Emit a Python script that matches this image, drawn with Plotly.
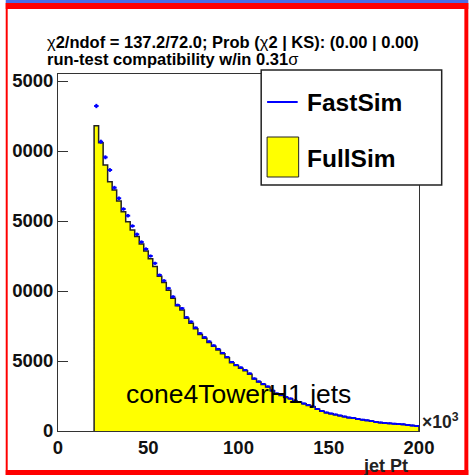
import numpy as np
import plotly.graph_objects as go

# Binning of the jet Pt histograms (units of 10^3)
bin_lo = 20.0
bin_w = 2.5

fastsim = [23214, 20664, 19550, 18643, 17379, 16622, 15857, 15379, 14643, 14050,
           13500, 13000, 12500, 11979, 11143, 10736, 10193, 9593, 9000, 8764,
           8121, 7807, 7379, 6979, 6693, 6393, 6107, 5857, 5571, 5286,
           4929, 4714, 4536, 4357, 4107, 3750, 3536, 3357, 3179, 2893,
           2679, 2571, 2429, 2321, 2179, 2071, 1964, 1857, 1750, 1571,
           1429, 1321, 1250, 1179, 1107, 1036, 964, 929, 857, 807,
           764, 714, 643, 607, 571, 550, 521, 500, 479, 429,
           393, 357]

fullsim = [21807, 20593, 19000, 17807, 17214, 16429, 15664, 14950, 14357, 13900,
           13350, 12850, 12300, 11750, 11050, 10600, 10050, 9480, 8950, 8650,
           8050, 7700, 7300, 6900, 6620, 6330, 6050, 5790, 5510, 5230,
           4880, 4680, 4490, 4310, 4060, 3720, 3500, 3320, 3150, 2870,
           2650, 2540, 2400, 2300, 2150, 2050, 1940, 1830, 1730, 1550,
           1410, 1300, 1230, 1160, 1090, 1020, 950, 915, 845, 795,
           750, 700, 635, 595, 560, 540, 510, 490, 470, 420,
           385, 350]

y_tickvals = [0, 5000, 10000, 15000, 20000, 25000]
y_ticktext = ["0", "5000", "0000", "5000", "0000", "5000"]
x_tickvals = [0, 50, 100, 150, 200]
x_ticktext = ["0", "50", "100", "150", "200"]

edges = bin_lo + bin_w * np.arange(len(fullsim) + 1)
centers = edges[:-1] + bin_w / 2

W, H = 469, 475
L, R, T, B = 53, 50, 74, 44
PW, PH = W - L - R, H - T - B


def px(x):
    return (x - L) / PW


def py(y):
    return (H - B - y) / PH


FONT = "Liberation Sans, Arial, Helvetica, sans-serif"

fig = go.Figure()

# FullSim: filled step histogram with dark outline
fig.add_trace(go.Scatter(
    x=[edges[0]] + list(edges[:-1]) + [edges[-1], edges[-1]],
    y=[0] + list(fullsim) + [fullsim[-1], 0],
    mode="lines", line=dict(shape="hv", color="#222222", width=1.5),
    fill="tozeroy", fillcolor="#ffff00", name="FullSim", showlegend=False,
    hoverinfo="skip",
))

# FastSim: points with bin-width horizontal bars and statistical errors
fig.add_trace(go.Scatter(
    x=centers, y=fastsim, mode="markers",
    marker=dict(size=2, color="#0000ff"),
    error_x=dict(type="constant", value=bin_w / 2, width=0, thickness=2, color="#0000ff"),
    error_y=dict(type="data", array=np.sqrt(fastsim), width=0, thickness=2, color="#0000ff"),
    name="FastSim", showlegend=False,
))

shapes = [
    # legend box
    dict(type="rect", xref="paper", yref="paper", x0=px(259), x1=px(442), y0=py(185), y1=py(70),
         fillcolor="white", line=dict(color="#222222", width=1.5), layer="above"),
    dict(type="line", xref="paper", yref="paper", x0=px(265), x1=px(296), y0=py(102), y1=py(102),
         line=dict(color="#0000ff", width=2), layer="above"),
    dict(type="rect", xref="paper", yref="paper", x0=px(265), x1=px(297), y0=py(177), y1=py(137),
         fillcolor="#ffff00", line=dict(color="#222222", width=1), layer="above"),
    # canvas border
    dict(type="rect", xref="paper", yref="paper", x0=px(0), x1=px(W), y0=py(0), y1=py(3),
         fillcolor="#4a6ee6", line=dict(width=0), layer="above"),
    dict(type="rect", xref="paper", yref="paper", x0=px(0), x1=px(W), y0=py(3), y1=py(9),
         fillcolor="#ff0000", line=dict(width=0), layer="above"),
    dict(type="rect", xref="paper", yref="paper", x0=px(0), x1=px(2), y0=py(3), y1=py(H),
         fillcolor="#ff0000", line=dict(width=0), layer="above"),
    dict(type="rect", xref="paper", yref="paper", x0=px(465), x1=px(W), y0=py(3), y1=py(H),
         fillcolor="#ff0000", line=dict(width=0), layer="above"),
    dict(type="rect", xref="paper", yref="paper", x0=px(0), x1=px(W), y0=py(470), y1=py(H),
         fillcolor="#ff0000", line=dict(width=0), layer="above"),
]

annotations = [
    dict(text="χ<b>2/ndof = 137.2/72.0; Prob (</b>χ<b>2 | KS): (0.00 | 0.00)</b>",
         x=px(40), y=py(42), xanchor="left", yanchor="middle"),
    dict(text="<b>run-test compatibility w/in 0.31</b>σ",
         x=px(40), y=py(59), xanchor="left", yanchor="middle"),
]
for a in annotations:
    a.update(xref="paper", yref="paper", showarrow=False,
             font=dict(family=FONT, size=16.5, color="black"))

annotations += [
    dict(text="<b>FastSim</b>", x=px(303), y=py(102), xanchor="left", yanchor="middle",
         xref="paper", yref="paper", showarrow=False,
         font=dict(family=FONT, size=24.5, color="black")),
    dict(text="<b>FullSim</b>", x=px(303), y=py(158), xanchor="left", yanchor="middle",
         xref="paper", yref="paper", showarrow=False,
         font=dict(family=FONT, size=24.5, color="black")),
    dict(text="cone4TowerH1 jets", x=px(120), y=py(394), xanchor="left", yanchor="middle",
         xref="paper", yref="paper", showarrow=False,
         font=dict(family=FONT, size=26.5, color="black")),
    dict(text="<b>×10<sup>3</sup></b>", x=px(420), y=py(421), xanchor="left", yanchor="middle",
         xref="paper", yref="paper", showarrow=False,
         font=dict(family=FONT, size=17.5, color="#222222")),
    dict(text="<b>jet Pt</b>", x=px(410), y=py(466), xanchor="right", yanchor="middle",
         xref="paper", yref="paper", showarrow=False,
         font=dict(family=FONT, size=18, color="#222222")),
]

tickfont = dict(family=FONT, size=18.5, color="#111111", weight="bold")

fig.update_layout(
    width=W, height=H,
    margin=dict(l=L, r=R, t=T, b=B, pad=0),
    paper_bgcolor="white", plot_bgcolor="white",
    showlegend=False,
    shapes=shapes, annotations=annotations,
    xaxis=dict(range=[0, 200], tickvals=x_tickvals, ticktext=x_ticktext, ticks="",
               showline=True, mirror=True, linecolor="#333333", linewidth=1,
               showgrid=False, zeroline=False, tickfont=tickfont, fixedrange=True),
    yaxis=dict(range=[0, 25500], tickvals=y_tickvals, ticktext=y_ticktext,
               ticks="inside", ticklen=10, tickcolor="#333333", tickwidth=1,
               showline=True, mirror=True, linecolor="#333333", linewidth=1,
               showgrid=False, zeroline=False, tickfont=tickfont, fixedrange=True),
)

fig.write_html("out.html", config={"displayModeBar": False})
